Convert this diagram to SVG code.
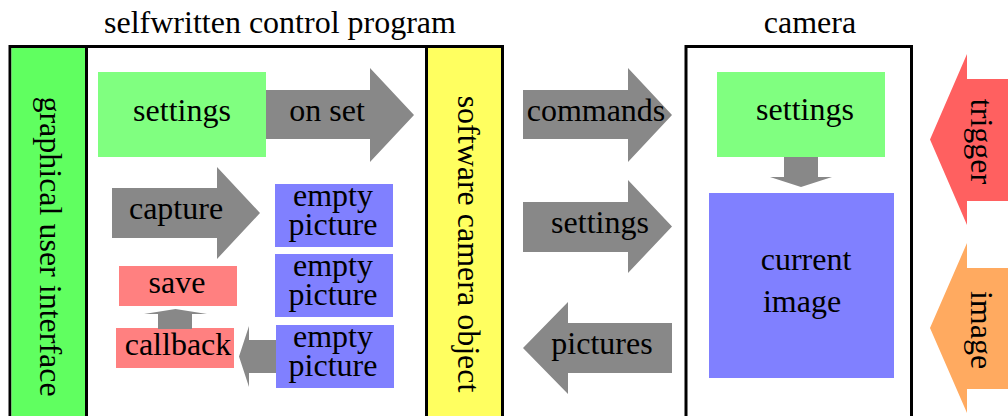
<svg xmlns="http://www.w3.org/2000/svg" width="1008" height="416" viewBox="0 0 1008 416">
<style>
text{font-size:32px;fill:#000;text-anchor:middle}
.arr{fill:#888888}
.frame{fill:none;stroke:#000;stroke-width:3}
.sep{stroke:#000;stroke-width:3}
.green{fill:#80ff80}
.blue{fill:#8080ff}
.pink{fill:#ff8080}
</style>
<rect width="1008" height="416" fill="#fff"/>
<g font-family="'Liberation Serif', 'Times New Roman', Times, 'DejaVu Serif', serif">
<g id="program">
<text x="280" y="33">selfwritten control program</text>
<rect x="10" y="46.5" width="492.5" height="380" class="frame"/>
</g>
<g id="gui">
<rect x="11.5" y="48" width="75" height="370" fill="#60ff60"/>
<line x1="86.5" y1="46" x2="86.5" y2="416" class="sep"/>
<text transform="translate(40,246.5) rotate(90)">graphical user interface</text>
</g>
<g id="camera-object">
<rect x="426.5" y="48" width="74.5" height="370" fill="#ffff60"/>
<line x1="426.5" y1="46" x2="426.5" y2="416" class="sep"/>
<text transform="translate(458,244) rotate(90)">software camera object</text>
</g>
<g id="camera">
<text x="810" y="33">camera</text>
<rect x="686" y="46.5" width="225.5" height="380" class="frame"/>
</g>
<g id="settings-left">
<rect x="98" y="72" width="168" height="85" class="green"/>
<text x="182" y="121">settings</text>
</g>
<g id="empty1">
<rect x="275" y="184" width="118" height="63" class="blue"/>
<text x="333" y="205.5">empty</text>
<text x="333" y="235">picture</text>
</g>
<g id="empty2">
<rect x="275" y="254" width="118" height="63" class="blue"/>
<text x="333" y="276">empty</text>
<text x="333" y="305">picture</text>
</g>
<g id="empty3">
<rect x="276" y="325" width="118" height="63" class="blue"/>
<text x="333" y="346.5">empty</text>
<text x="333" y="375.5">picture</text>
</g>
<g id="save">
<rect x="119" y="266" width="118" height="40" class="pink"/>
<text x="177" y="293">save</text>
</g>
<g id="callback">
<rect x="116" y="328" width="118" height="40" class="pink"/>
<text x="178" y="355">callback</text>
</g>
<g id="settings-camera">
<rect x="717" y="72" width="168" height="85" class="green"/>
<text x="805" y="120">settings</text>
</g>
<g id="current-image">
<rect x="709" y="193" width="185" height="185" class="blue"/>
<text x="806" y="270">current</text>
<text x="802" y="312">image</text>
</g>
<g id="trigger">
<polygon points="1010,79 967,79 967,54 930,139.5 967,225 967,201 1010,201" fill="#ff6060"/>
<text transform="translate(971,141.5) rotate(90)">trigger</text>
</g>
<g id="image-in">
<polygon points="1010,268 967,268 967,243 930,328 967,413 967,389 1010,389" fill="#ffaa60"/>
<text transform="translate(971,330) rotate(90)">image</text>
</g>
<g id="connectors">
<polygon class="arr" points="266,90 370,90 370,68 414,115 370,162 370,139 266,139"/>
<polygon class="arr" points="112,188 217,188 217,167 260,213 217,259 217,238 112,238"/>
<polygon class="arr" points="158,329 158,314 144,314 175.5,309 207,314 192,314 192,329"/>
<polygon class="arr" points="276,340 249,340 249,326 239,356.5 249,387 249,373 276,373"/>
<polygon class="arr" points="523,90 628,90 628,68 672,115 628,162 628,139 523,139"/>
<polygon class="arr" points="523,202 628,202 628,180 672,226.5 628,273 628,252 523,252"/>
<polygon class="arr" points="672,323 568,323 568,302 523,348 568,394 568,373 672,373"/>
<polygon class="arr" points="784,157 818,157 818,177 832,177 801,187 770,177 784,177"/>
<text x="327" y="121">on set</text>
<text x="176" y="219">capture</text>
<text x="596" y="121">commands</text>
<text x="600" y="233">settings</text>
<text x="602" y="354">pictures</text>
</g>
</g>
</svg>
